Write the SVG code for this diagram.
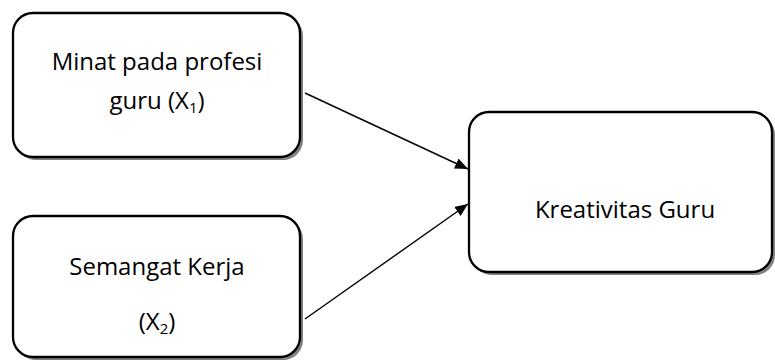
<svg xmlns="http://www.w3.org/2000/svg" width="775" height="360" viewBox="0 0 775 360">
<style>
.box{fill:#fff;stroke:#000;stroke-width:2.3}
.sh{fill:#808080;stroke:none}
.t{font-family:"Open Sans","Liberation Sans",sans-serif;font-size:24px;fill:#000;text-anchor:middle}
.c{stroke:#000;stroke-width:1.4;fill:none;marker-end:url(#ah)}
</style>
<defs>
<marker id="ah" viewBox="0 0 10 10" refX="10" refY="5" markerWidth="13" markerHeight="11" markerUnits="userSpaceOnUse" orient="auto" preserveAspectRatio="none">
<path d="M0,0 L10,5 L0,10 z" fill="#000"/>
</marker>
</defs>
<g id="n1">
<rect class="sh" x="16" y="16" width="287" height="144" rx="20"/>
<rect class="box" x="13" y="13" width="287" height="144" rx="20"/>
<text class="t" x="157" y="70">Minat pada profesi</text>
<text class="t" x="157" y="109">guru (X<tspan font-size="15" dy="4">1</tspan><tspan dy="-4">)</tspan></text>
</g>
<g id="n2">
<rect class="sh" x="16" y="219" width="287" height="141" rx="20"/>
<rect class="box" x="13" y="216" width="287" height="141" rx="20"/>
<text class="t" x="157" y="275">Semangat Kerja</text>
<text class="t" x="157" y="330">(X<tspan font-size="15" dy="4">2</tspan><tspan dy="-4">)</tspan></text>
</g>
<g id="n3">
<rect class="sh" x="472" y="115" width="303" height="160" rx="20"/>
<rect class="box" x="469" y="112" width="303" height="160" rx="20"/>
<text class="t" x="625" y="218">Kreativitas Guru</text>
</g>
<g id="connectors">
<line class="c" x1="305" y1="93" x2="468" y2="169"/>
<line class="c" x1="305" y1="319" x2="468" y2="204"/>
</g>
</svg>
